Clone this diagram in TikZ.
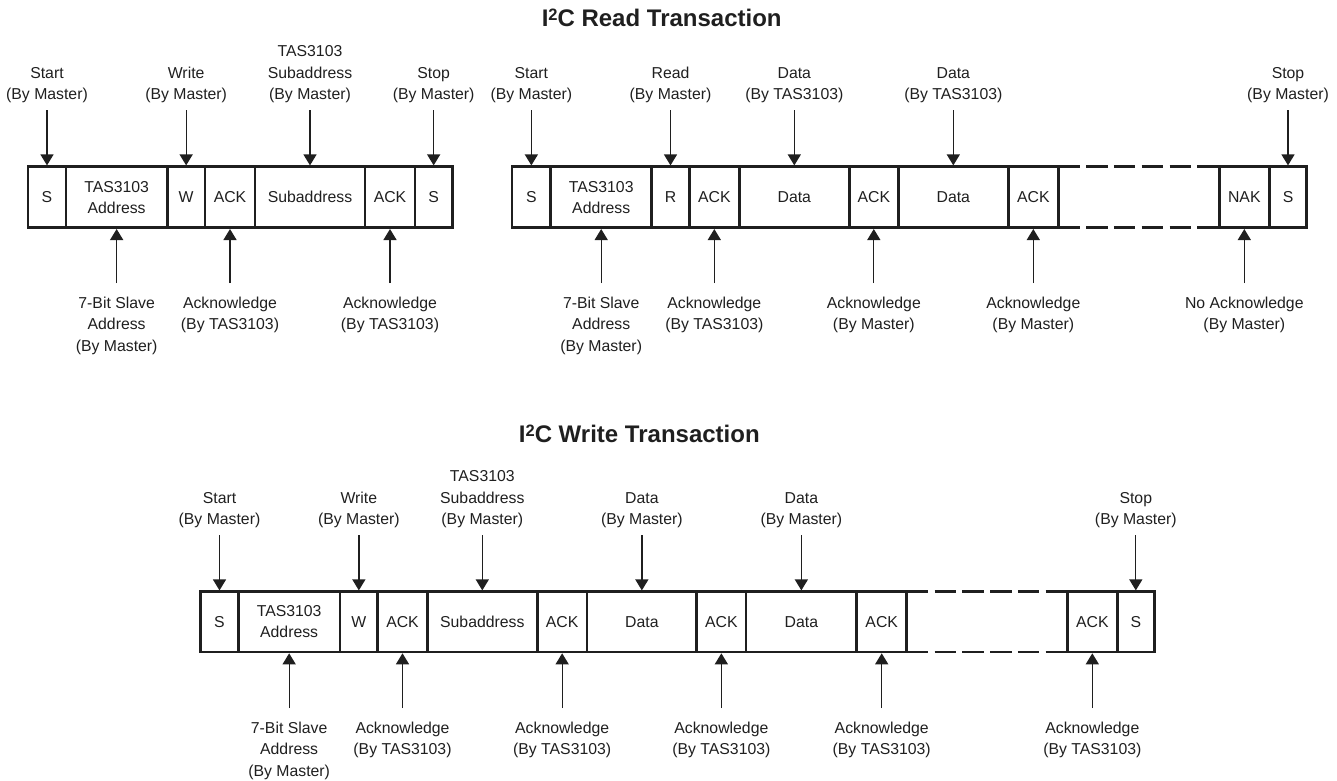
\documentclass[tikz,border=0pt]{standalone}
\usepackage{fontspec}
\setmainfont{Liberation Sans}
\usetikzlibrary{arrows.meta}
\definecolor{ink}{HTML}{1F1F1F}
\newcommand{\bx}[5]{\node[cell,minimum width={#3pt-#2pt}] (#1) at ({(#2+#3)/2},#4) {#5};}
\newcommand{\labtop}[4]{\node[lab,anchor=south] (#1) at (#2.north |- 0,#3) {#4};\draw[dn] (#1.south) -- (#2.north);}
\newcommand{\labbot}[4]{\node[lab,anchor=north] (#1) at (#2.south |- 0,#3) {#4};\draw[upa] (#1.north) -- (#2.south);}
\begin{document}
\begin{tikzpicture}[x=1pt,y=-1pt,
  cell/.style={draw=ink, line width=2.6pt, minimum height=61pt, inner sep=0pt, outer sep=0pt, align=center, text=ink, font=\fontsize{15.8}{21}\selectfont},
  lab/.style={inner sep=0pt, align=center, text=ink, font=\fontsize{15.8}{21.3}\selectfont},
  dn/.style={draw=ink, line width=1.3pt, -{Triangle[width=13pt,length=11pt]}, shorten <=7pt, shorten >=1.3pt},
  upa/.style={draw=ink, line width=1.3pt, -{Triangle[width=13pt,length=11pt]}, shorten <=14pt, shorten >=1.3pt},
  gapline/.style={draw=ink, line width=2.6pt, dash pattern=on 21.4pt off 6.4pt},
  ttl/.style={inner sep=0pt, anchor=base, text=ink, font=\fontsize{24}{28}\selectfont\bfseries}]
\useasboundingbox (0,0) rectangle (1337,780);

% titles
\node[ttl] (t1) at (661.7,26) {I\raisebox{5.6pt}{\fontsize{16.5}{17}\selectfont 2}C Read Transaction};
\node[ttl] (t2) at (639.3,442.3) {I\raisebox{5.6pt}{\fontsize{16.5}{17}\selectfont 2}C Write Transaction};

% ---- top-left row (write subaddress)
\bx{a1}{28}{66}{197.2}{S}
\bx{a2}{66}{167.3}{197.2}{TAS3103\\Address}
\bx{a3}{167.3}{205}{197.2}{W}
\bx{a4}{205}{255}{197.2}{ACK}
\bx{a5}{255}{365}{197.2}{Subaddress}
\bx{a6}{365}{415}{197.2}{ACK}
\bx{a7}{415}{452.3}{197.2}{S}

\labtop{la1}{a1}{103}{Start\\(By Master)}
\labtop{la3}{a3}{103}{Write\\(By Master)}
\labtop{la5}{a5}{103}{TAS3103\\Subaddress\\(By Master)}
\labtop{la7}{a7}{103}{Stop\\(By Master)}
\labbot{la2}{a2}{297}{7-Bit Slave\\Address\\(By Master)}
\labbot{la4}{a4}{297}{Acknowledge\\(By TAS3103)}
\labbot{la6}{a6}{297}{Acknowledge\\(By TAS3103)}

% ---- top-right row (read)
\bx{b1}{512}{550.7}{197.2}{S}
\bx{b2}{550.7}{651.7}{197.2}{TAS3103\\Address}
\bx{b3}{651.7}{689.3}{197.2}{R}
\bx{b4}{689.3}{739.3}{197.2}{ACK}
\bx{b5}{739.3}{849.3}{197.2}{Data}
\bx{b6}{849.3}{898.3}{197.2}{ACK}
\bx{b7}{898.3}{1008.3}{197.2}{Data}
\bx{b8}{1008.3}{1058.3}{197.2}{ACK}
\bx{b9}{1219.3}{1269.3}{197.2}{NAK}
\bx{b10}{1269.3}{1306.7}{197.2}{S}
\draw[gapline] (b8.north east) -- (b9.north west);
\draw[gapline] (b8.south east) -- (b9.south west);

\labtop{lb1}{b1}{103}{Start\\(By Master)}
\labtop{lb3}{b3}{103}{Read\\(By Master)}
\labtop{lb5}{b5}{103}{Data\\(By TAS3103)}
\labtop{lb7}{b7}{103}{Data\\(By TAS3103)}
\labtop{lb10}{b10}{103}{Stop\\(By Master)}
\labbot{lb2}{b2}{297}{7-Bit Slave\\Address\\(By Master)}
\labbot{lb4}{b4}{297}{Acknowledge\\(By TAS3103)}
\labbot{lb6}{b6}{297}{Acknowledge\\(By Master)}
\labbot{lb8}{b8}{297}{Acknowledge\\(By Master)}
\labbot{lb9}{b9}{297}{No Acknowledge\\(By Master)}

% ---- bottom row (write)
\begin{scope}[cell/.append style={minimum height=60.3pt}]
\bx{c1}{200.7}{238.3}{621.85}{S}
\bx{c2}{238.3}{340}{621.85}{TAS3103\\Address}
\bx{c3}{340}{377.7}{621.85}{W}
\bx{c4}{377.7}{427.3}{621.85}{ACK}
\bx{c5}{427.3}{537.3}{621.85}{Subaddress}
\bx{c6}{537.3}{587}{621.85}{ACK}
\bx{c7}{587}{696.7}{621.85}{Data}
\bx{c8}{696.7}{746}{621.85}{ACK}
\bx{c9}{746}{856.7}{621.85}{Data}
\bx{c10}{856.7}{906.7}{621.85}{ACK}
\bx{c11}{1067.3}{1117.3}{621.85}{ACK}
\bx{c12}{1117.3}{1154.3}{621.85}{S}
\end{scope}
\draw[gapline] (c10.north east) -- (c11.north west);
\draw[gapline] (c10.south east) -- (c11.south west);

\labtop{lc1}{c1}{528}{Start\\(By Master)}
\labtop{lc3}{c3}{528}{Write\\(By Master)}
\labtop{lc5}{c5}{528}{TAS3103\\Subaddress\\(By Master)}
\labtop{lc7}{c7}{528}{Data\\(By Master)}
\labtop{lc9}{c9}{528}{Data\\(By Master)}
\labtop{lc12}{c12}{528}{Stop\\(By Master)}
\labbot{lc2}{c2}{722}{7-Bit Slave\\Address\\(By Master)}
\labbot{lc4}{c4}{722}{Acknowledge\\(By TAS3103)}
\labbot{lc6}{c6}{722}{Acknowledge\\(By TAS3103)}
\labbot{lc8}{c8}{722}{Acknowledge\\(By TAS3103)}
\labbot{lc10}{c10}{722}{Acknowledge\\(By TAS3103)}
\labbot{lc11}{c11}{722}{Acknowledge\\(By TAS3103)}
\end{tikzpicture}
\end{document}
